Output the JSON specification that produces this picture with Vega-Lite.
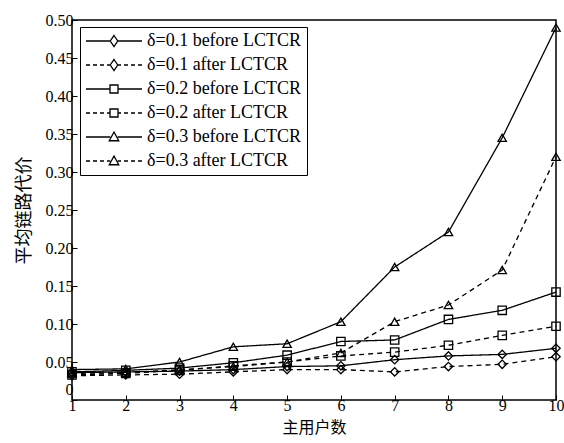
{
  "$schema": "https://vega.github.io/schema/vega-lite/v6.json",
  "width": 484,
  "height": 380,
  "autosize": {"type": "none"},
  "padding": {"left": 72, "top": 20, "right": 8, "bottom": 43},
  "background": "white",
  "config": {
    "view": {"stroke": "black", "strokeWidth": 1.5},
    "font": "Liberation Serif",
    "axis": {"grid": false, "domain": false, "tickColor": "black", "tickSize": -5, "labelColor": "black", "labelFontSize": 16, "labelFont": "Liberation Serif", "titleColor": "black", "titleFont": "Noto Sans CJK SC", "titleFontSize": 18, "titleFontWeight": "normal"}
  },
  "data": {
    "values": [
      {"x": 1, "series": "δ=0.1 before LCTCR", "y": 0.036},
      {"x": 2, "series": "δ=0.1 before LCTCR", "y": 0.037},
      {"x": 3, "series": "δ=0.1 before LCTCR", "y": 0.038},
      {"x": 4, "series": "δ=0.1 before LCTCR", "y": 0.040},
      {"x": 5, "series": "δ=0.1 before LCTCR", "y": 0.044},
      {"x": 6, "series": "δ=0.1 before LCTCR", "y": 0.045},
      {"x": 7, "series": "δ=0.1 before LCTCR", "y": 0.053},
      {"x": 8, "series": "δ=0.1 before LCTCR", "y": 0.058},
      {"x": 9, "series": "δ=0.1 before LCTCR", "y": 0.060},
      {"x": 10, "series": "δ=0.1 before LCTCR", "y": 0.068},
      {"x": 1, "series": "δ=0.1 after LCTCR", "y": 0.032},
      {"x": 2, "series": "δ=0.1 after LCTCR", "y": 0.033},
      {"x": 3, "series": "δ=0.1 after LCTCR", "y": 0.034},
      {"x": 4, "series": "δ=0.1 after LCTCR", "y": 0.037},
      {"x": 5, "series": "δ=0.1 after LCTCR", "y": 0.040},
      {"x": 6, "series": "δ=0.1 after LCTCR", "y": 0.040},
      {"x": 7, "series": "δ=0.1 after LCTCR", "y": 0.037},
      {"x": 8, "series": "δ=0.1 after LCTCR", "y": 0.044},
      {"x": 9, "series": "δ=0.1 after LCTCR", "y": 0.047},
      {"x": 10, "series": "δ=0.1 after LCTCR", "y": 0.057},
      {"x": 1, "series": "δ=0.2 before LCTCR", "y": 0.037},
      {"x": 2, "series": "δ=0.2 before LCTCR", "y": 0.039},
      {"x": 3, "series": "δ=0.2 before LCTCR", "y": 0.042},
      {"x": 4, "series": "δ=0.2 before LCTCR", "y": 0.049},
      {"x": 5, "series": "δ=0.2 before LCTCR", "y": 0.059},
      {"x": 6, "series": "δ=0.2 before LCTCR", "y": 0.077},
      {"x": 7, "series": "δ=0.2 before LCTCR", "y": 0.079},
      {"x": 8, "series": "δ=0.2 before LCTCR", "y": 0.106},
      {"x": 9, "series": "δ=0.2 before LCTCR", "y": 0.118},
      {"x": 10, "series": "δ=0.2 before LCTCR", "y": 0.142},
      {"x": 1, "series": "δ=0.2 after LCTCR", "y": 0.033},
      {"x": 2, "series": "δ=0.2 after LCTCR", "y": 0.035},
      {"x": 3, "series": "δ=0.2 after LCTCR", "y": 0.039},
      {"x": 4, "series": "δ=0.2 after LCTCR", "y": 0.045},
      {"x": 5, "series": "δ=0.2 after LCTCR", "y": 0.050},
      {"x": 6, "series": "δ=0.2 after LCTCR", "y": 0.058},
      {"x": 7, "series": "δ=0.2 after LCTCR", "y": 0.063},
      {"x": 8, "series": "δ=0.2 after LCTCR", "y": 0.072},
      {"x": 9, "series": "δ=0.2 after LCTCR", "y": 0.085},
      {"x": 10, "series": "δ=0.2 after LCTCR", "y": 0.097},
      {"x": 1, "series": "δ=0.3 before LCTCR", "y": 0.040},
      {"x": 2, "series": "δ=0.3 before LCTCR", "y": 0.041},
      {"x": 3, "series": "δ=0.3 before LCTCR", "y": 0.050},
      {"x": 4, "series": "δ=0.3 before LCTCR", "y": 0.070},
      {"x": 5, "series": "δ=0.3 before LCTCR", "y": 0.074},
      {"x": 6, "series": "δ=0.3 before LCTCR", "y": 0.103},
      {"x": 7, "series": "δ=0.3 before LCTCR", "y": 0.175},
      {"x": 8, "series": "δ=0.3 before LCTCR", "y": 0.221},
      {"x": 9, "series": "δ=0.3 before LCTCR", "y": 0.345},
      {"x": 10, "series": "δ=0.3 before LCTCR", "y": 0.490},
      {"x": 1, "series": "δ=0.3 after LCTCR", "y": 0.035},
      {"x": 2, "series": "δ=0.3 after LCTCR", "y": 0.036},
      {"x": 3, "series": "δ=0.3 after LCTCR", "y": 0.040},
      {"x": 4, "series": "δ=0.3 after LCTCR", "y": 0.044},
      {"x": 5, "series": "δ=0.3 after LCTCR", "y": 0.050},
      {"x": 6, "series": "δ=0.3 after LCTCR", "y": 0.062},
      {"x": 7, "series": "δ=0.3 after LCTCR", "y": 0.103},
      {"x": 8, "series": "δ=0.3 after LCTCR", "y": 0.125},
      {"x": 9, "series": "δ=0.3 after LCTCR", "y": 0.171},
      {"x": 10, "series": "δ=0.3 after LCTCR", "y": 0.320}
    ]
  },
  "encoding": {
    "x": {"field": "x", "type": "quantitative", "scale": {"domain": [1, 10], "nice": false, "zero": false},
      "axis": {"values": [1,2,3,4,5,6,7,8,9,10], "title": "主用户数", "labelPadding": 2, "titlePadding": 6, "titleFontSize": 16, "labelFlush": false}},
    "y": {"field": "y", "type": "quantitative", "scale": {"domain": [0, 0.5], "nice": false},
      "axis": {"values": [0,0.05,0.1,0.15,0.2,0.25,0.3,0.35,0.4,0.45,0.5], "labelExpr": "datum.value == 0 ? '0' : format(datum.value, '.2f')",
        "labelBaseline": {"condition": {"test": "datum.value == 0", "value": "bottom"}, "value": "middle"},
        "labelOffset": {"condition": {"test": "datum.value == 0", "value": -3}, "value": 0},
        "labelFlush": false,
        "title": "平均链路代价", "labelPadding": 4, "titlePadding": 12}}
  },
  "layer": [
    {
      "mark": {"type": "line", "color": "black", "strokeWidth": 1.3},
      "encoding": {
        "detail": {"field": "series"},
        "strokeDash": {"field": "series", "type": "nominal",
          "scale": {"domain": ["δ=0.1 before LCTCR","δ=0.1 after LCTCR","δ=0.2 before LCTCR","δ=0.2 after LCTCR","δ=0.3 before LCTCR","δ=0.3 after LCTCR"],
                    "range": [[1,0],[5,4],[1,0],[5,4],[1,0],[5,4]]},
          "legend": null}
      }
    },
    {
      "mark": {"type": "point", "color": "black", "filled": false, "opacity": 1, "strokeWidth": 1.3, "size": 70},
      "encoding": {
        "shape": {"field": "series", "type": "nominal",
          "scale": {"domain": ["δ=0.1 before LCTCR","δ=0.1 after LCTCR","δ=0.2 before LCTCR","δ=0.2 after LCTCR","δ=0.3 before LCTCR","δ=0.3 after LCTCR"],
                    "range": ["diamond","diamond","square","square","triangle-up","triangle-up"]},
          "legend": null}
      }
    },
    {
      "transform": [{"filter": "datum.x > 100"}],
      "mark": {"type": "point", "color": "black", "filled": false, "opacity": 1, "strokeWidth": 1.3},
      "encoding": {
        "shape": {"field": "series", "type": "nominal", "title": null,
          "scale": {"domain": ["δ=0.1 before LCTCR","δ=0.1 after LCTCR","δ=0.2 before LCTCR","δ=0.2 after LCTCR","δ=0.3 before LCTCR","δ=0.3 after LCTCR"],
                    "range": [
                      "M-5.6,0H-0.75M0.75,0H5.6M0,-1.1L0.75,0L0,1.1L-0.75,0Z",
                      "M-5.6,0H-4.8M-4.2,0H-3.4M-2.8,0H-2.0M-1.4,0H-0.75M0.75,0H1.4M2.0,0H2.8M3.4,0H4.2M4.8,0H5.6M0,-1.1L0.75,0L0,1.1L-0.75,0Z",
                      "M-5.6,0H-0.8M0.8,0H5.6M-0.8,-0.8H0.8V0.8H-0.8Z",
                      "M-5.6,0H-4.8M-4.2,0H-3.4M-2.8,0H-2.0M-1.4,0H-0.8M0.8,0H1.4M2.0,0H2.8M3.4,0H4.2M4.8,0H5.6M-0.8,-0.8H0.8V0.8H-0.8Z",
                      "M-5.6,0H-0.75M0.75,0H5.6M0,-1L0.95,0.75H-0.95Z",
                      "M-5.6,0H-4.8M-4.2,0H-3.4M-2.8,0H-2.0M-1.4,0H-0.75M0.75,0H1.4M2.0,0H2.8M3.4,0H4.2M4.8,0H5.6M0,-1L0.95,0.75H-0.95Z"
                    ]},
          "legend": {"orient": "none", "legendX": 8, "legendY": 7, "symbolSize": 100, "symbolStrokeWidth": 1.3, "symbolStrokeColor": "black", "symbolOpacity": 1,
                     "symbolOffset": 20, "labelOffset": 24, "labelFontSize": 18, "labelFont": "Liberation Serif", "labelColor": "black",
                     "rowPadding": 6, "padding": 5, "strokeColor": "black", "fillColor": "white", "labelLimit": 300}}
      }
    }
  ],
  "resolve": {"scale": {"shape": "independent", "strokeDash": "independent"}}
}
